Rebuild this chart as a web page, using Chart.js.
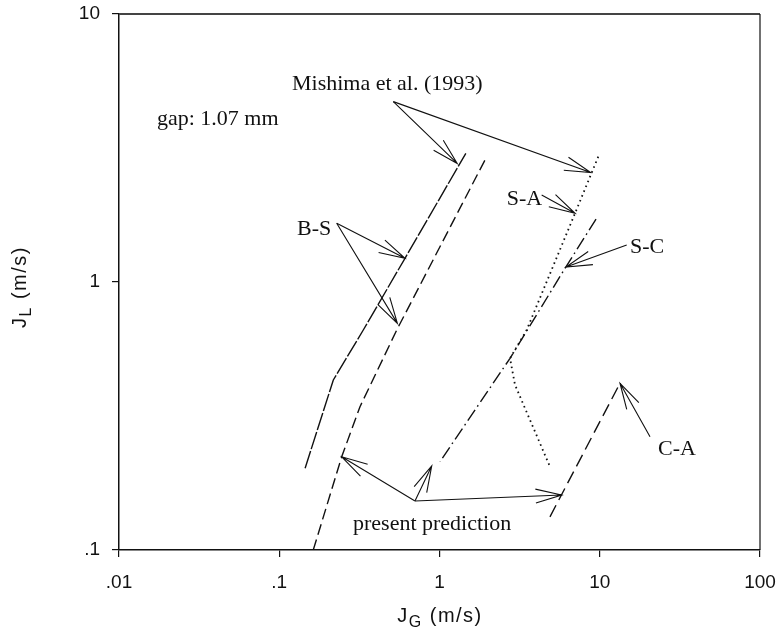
<!DOCTYPE html>
<html>
<head>
<meta charset="utf-8">
<script src="https://cdn.jsdelivr.net/npm/chart.js@4.4.1/dist/chart.umd.min.js"></script>
<style>
  html, body { margin: 0; padding: 0; background: #fff; }
  canvas { display: block; }
</style>
</head>
<body>
<canvas id="flowMap" width="781" height="637"></canvas>
<script>
// Axis ticks (decades only)
const xTickValues = [0.01, 0.1, 1, 10, 100];
const xTickLabels = ['.01', '.1', '1', '10', '100'];
const yTickValues = [0.1, 1, 10];
const yTickLabels = ['.1', '1', '10'];

// Transition boundaries, JG vs JL (m/s)
const mishimaBS_JG = [0.145, 0.2175, 0.3345, 0.609, 1.46];
const mishimaBS_JL = [0.202, 0.431, 0.662, 1.226, 3.02];

const presentBS_JG = [0.163, 0.2453, 0.319, 0.541, 1.922];
const presentBS_JL = [0.1, 0.2228, 0.3425, 0.662, 2.852];

const mishimaSA_JG = [9.79, 7.01, 3.5, 2.754, 2.96, 4.89];
const mishimaSA_JL = [2.935, 1.804, 0.662, 0.519, 0.413, 0.2046];

const presentSC_JG = [9.48, 6.07, 2.754, 1.007];
const presentSC_JL = [1.718, 1.125, 0.519, 0.2136];

const presentCA_JG = [4.89, 13.38];
const presentCA_JL = [0.133, 0.419];

// Annotations: text and arrows, in data coordinates
const noteTexts = ['gap: 1.07 mm', 'Mishima et al. (1993)', 'B-S', 'S-A', 'S-C', 'C-A', 'present prediction'];
const noteAnchors = [[0.01726, 3.853], [0.1201, 5.203], [0.129, 1.497], [2.627, 1.938], [15.45, 1.283], [23.1, 0.2261], [0.2885, 0.1187]];

// each arrow: [fromJG, fromJL, toJG, toJL]
const arrows = [
    [0.515, 4.71, 1.29, 2.77],
    [0.515, 4.71, 8.78, 2.56],
    [0.2283, 1.656, 0.609, 1.226],
    [0.2283, 1.656, 0.546, 0.701],
    [4.34, 2.112, 7.01, 1.804],
    [14.73, 1.374, 6.16, 1.138],
    [20.59, 0.2647, 13.38, 0.419],
    [0.703, 0.1524, 0.2453, 0.2228],
    [0.703, 0.1524, 0.894, 0.2058],
    [0.703, 0.1524, 5.79, 0.1604]
];

function toPoints(xs, ys) {
    return xs.map((x, i) => ({ x: x, y: ys[i] }));
}

function lineSet(label, xs, ys, dash, width) {
    return {
        label: label,
        data: toPoints(xs, ys),
        showLine: true,
        borderColor: '#111',
        borderWidth: width || 1.3,
        borderDash: dash,
        pointRadius: 0,
        fill: false,
        tension: 0
    };
}

// Frame, axis titles and annotations
const decorPlugin = {
    id: 'decor',
    afterDraw(chart) {
        const ctx = chart.ctx;
        const area = chart.chartArea;
        const xs = chart.scales.x;
        const ys = chart.scales.y;

        ctx.save();
        // top + right frame
        ctx.strokeStyle = '#444';
        ctx.lineWidth = 2;
        ctx.beginPath();
        ctx.moveTo(area.left, area.top);
        ctx.lineTo(area.right, area.top);
        ctx.stroke();
        ctx.strokeStyle = '#111';
        ctx.lineWidth = 1.2;
        ctx.beginPath();
        ctx.moveTo(area.right, area.top);
        ctx.lineTo(area.right, area.bottom);
        ctx.stroke();

        // arrows
        ctx.strokeStyle = '#111';
        ctx.lineWidth = 1.1;
        ctx.setLineDash([]);
        arrows.forEach(a => {
            const x0 = xs.getPixelForValue(a[0]);
            const y0 = ys.getPixelForValue(a[1]);
            const x1 = xs.getPixelForValue(a[2]);
            const y1 = ys.getPixelForValue(a[3]);
            const ang = Math.atan2(y0 - y1, x0 - x1);
            const len = 27;
            const spread = 0.26;
            ctx.beginPath();
            ctx.moveTo(x0, y0);
            ctx.lineTo(x1, y1);
            ctx.moveTo(x1 + len * Math.cos(ang - spread), y1 + len * Math.sin(ang - spread));
            ctx.lineTo(x1, y1);
            ctx.lineTo(x1 + len * Math.cos(ang + spread), y1 + len * Math.sin(ang + spread));
            ctx.stroke();
        });

        // labels
        ctx.fillStyle = '#111';
        ctx.font = '22px "Liberation Serif", "Times New Roman", serif';
        ctx.textAlign = 'left';
        ctx.textBaseline = 'alphabetic';
        noteTexts.forEach((t, i) => {
            ctx.fillText(t, xs.getPixelForValue(noteAnchors[i][0]), ys.getPixelForValue(noteAnchors[i][1]));
        });

        // axis titles with subscripts
        const big = '20px "Liberation Sans", Arial, sans-serif';
        const small = '16px "Liberation Sans", Arial, sans-serif';
        ctx.letterSpacing = '1.5px';
        function titleWidth(main, sub, rest) {
            ctx.font = big;
            let w = ctx.measureText(main).width + ctx.measureText(rest).width;
            ctx.font = small;
            return w + ctx.measureText(sub).width;
        }
        function drawTitle(main, sub, rest) {
            let w = titleWidth(main, sub, rest);
            let x = -w / 2;
            ctx.font = big;
            ctx.fillText(main, x, 0);
            x += ctx.measureText(main).width;
            ctx.font = small;
            ctx.fillText(sub, x, 5);
            x += ctx.measureText(sub).width;
            ctx.font = big;
            ctx.fillText(rest, x, 0);
        }
        ctx.save();
        ctx.translate(440, 622);
        drawTitle('J', 'G', ' (m/s)');
        ctx.restore();

        ctx.save();
        ctx.translate(26, 287);
        ctx.rotate(-Math.PI / 2);
        drawTitle('J', 'L', ' (m/s)');
        ctx.restore();

        ctx.restore();
    }
};

const tickFont = { family: '"Liberation Sans", Arial, sans-serif', size: 19 };

new Chart(document.getElementById('flowMap'), {
    type: 'scatter',
    data: {
        datasets: [
            lineSet('Mishima B-S', mishimaBS_JG, mishimaBS_JL, [18, 2], 1.4),
            lineSet('present B-S', presentBS_JG, presentBS_JL, [11, 5], 1.4),
            lineSet('Mishima S-A', mishimaSA_JG, mishimaSA_JL, [1.6, 3.6], 1.8),
            lineSet('present S-C', presentSC_JG, presentSC_JL, [13, 4, 1.6, 4], 1.4),
            lineSet('present C-A', presentCA_JG, presentCA_JL, [13, 6], 1.4)
        ]
    },
    options: {
        responsive: false,
        animation: false,
        devicePixelRatio: 1,
        layout: { padding: { left: 0, top: 14, right: 21, bottom: 0 } },
        plugins: {
            legend: { display: false },
            tooltip: { enabled: false }
        },
        scales: {
            x: {
                type: 'logarithmic',
                min: 0.01,
                max: 100,
                afterBuildTicks: s => { s.ticks = xTickValues.map(v => ({ value: v })); },
                afterFit: s => {
                    s.height = 87;
                    s.paddingLeft = 0;
                    s.paddingRight = 0;
                },
                ticks: {
                    color: '#111',
                    font: tickFont,
                    padding: 14,
                    maxRotation: 0,
                    autoSkip: false,
                    callback: (v, i) => xTickLabels[i]
                },
                grid: { drawOnChartArea: false, drawTicks: true, tickLength: 7, color: '#111', lineWidth: 1.2 },
                border: { color: '#111', width: 1.5 }
            },
            y: {
                type: 'logarithmic',
                min: 0.1,
                max: 10,
                afterBuildTicks: s => { s.ticks = yTickValues.map(v => ({ value: v })); },
                afterFit: s => {
                    s.width = 119;
                    s.paddingTop = 0;
                    s.paddingBottom = 0;
                },
                ticks: {
                    color: '#111',
                    font: tickFont,
                    padding: 12,
                    autoSkip: false,
                    callback: (v, i) => yTickLabels[i]
                },
                grid: { drawOnChartArea: false, drawTicks: true, tickLength: 7, color: '#111', lineWidth: 1.2 },
                border: { color: '#111', width: 1.5 }
            }
        }
    },
    plugins: [decorPlugin]
});
</script>
</body>
</html>
